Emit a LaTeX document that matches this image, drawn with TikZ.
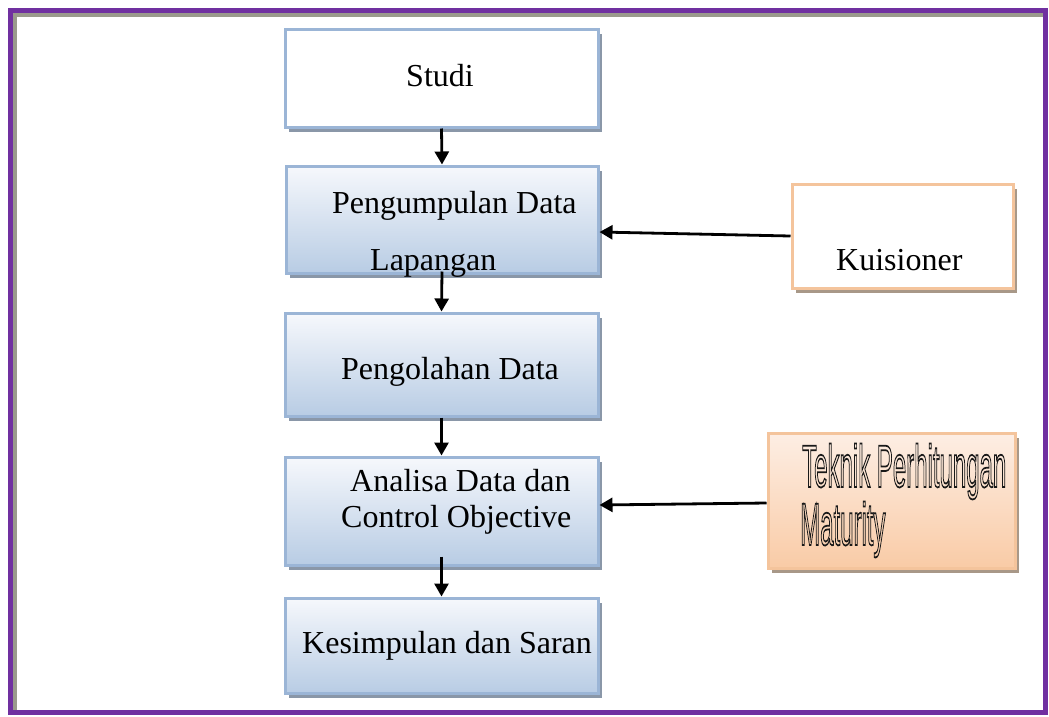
\documentclass[tikz,border=0pt]{standalone}
\usepackage{fontspec}
\setmainfont{Liberation Serif}
\newfontfamily\condfont{Liberation Sans}
\usetikzlibrary{arrows.meta,shadows}
\definecolor{frameP}{HTML}{7030A0}
\definecolor{frameG}{HTML}{9A9A8C}
\definecolor{blueLine}{HTML}{9BB5D6}
\definecolor{blueTop}{HTML}{F6F8FC}
\definecolor{blueBot}{HTML}{B8CCE4}
\definecolor{orLine}{HTML}{F4C49C}
\definecolor{orTop}{HTML}{FDEEE4}
\definecolor{orBot}{HTML}{F9CBA6}
\definecolor{shBlue}{HTML}{8A97A8}
\definecolor{shOr}{HTML}{A89888}
\tikzset{
  basebox/.style={rectangle, line width=3pt, inner sep=0pt},
  bluebox/.style={basebox, draw=blueLine, top color=blueTop, bottom color=blueBot,
    drop shadow={shadow xshift=3.5pt, shadow yshift=-5pt, fill=shBlue, opacity=1}},
  whitebox/.style={basebox, draw=blueLine, fill=white,
    drop shadow={shadow xshift=3.5pt, shadow yshift=-5pt, fill=shBlue, opacity=1}},
  orwhite/.style={basebox, draw=orLine, fill=white,
    drop shadow={shadow xshift=3.5pt, shadow yshift=-5pt, fill=shOr, opacity=1}},
  orbox/.style={basebox, draw=orLine, top color=orTop, bottom color=orBot,
    drop shadow={shadow xshift=3.5pt, shadow yshift=-5pt, fill=shOr, opacity=1}},
  txt/.style={anchor=base west, inner sep=0pt, font=\fontsize{32}{38}\selectfont},
  arr/.style={line width=2.8pt, -{Triangle[length=13pt,width=14pt]}}
}
\begin{document}
\begin{tikzpicture}[x=1pt,y=-1pt]
\useasboundingbox (0,0) rectangle (1049,716);
\fill[white] (0,0) rectangle (1049,716);
% frame
\draw[frameG, line width=3.5pt] (15,712) -- (15,15) -- (1044,15);
\draw[frameP, line width=5.5pt] (10.5,10.5) rectangle (1045.5,712.5);

% boxes
\node[whitebox, minimum width=313pt, minimum height=98pt] (s1) at (441.5,78) {};
\node[bluebox, minimum width=312pt, minimum height=107pt] (s2) at (442,219.5) {};
\node[bluebox, minimum width=313pt, minimum height=103pt] (s3) at (441.5,364.5) {};
\node[bluebox, minimum width=313pt, minimum height=108pt] (s4) at (441.5,511) {};
\node[bluebox, minimum width=313pt, minimum height=95pt] (s5) at (441.5,645.5) {};
\node[orwhite, minimum width=221pt, minimum height=104pt] (kuis) at (902.5,236) {};
\node[orbox, minimum width=247pt, minimum height=135pt] (tek) at (891.5,500.5) {};

% texts
\node[txt, anchor=base] (t1) at (440,86) {Studi};
\node[txt] (t2a) at (332,213) {Pengumpulan Data};
\node[txt] (t2b) at (370,270) {Lapangan};
\node[txt] (t3) at (341,379) {Pengolahan Data};
\node[txt] (t4a) at (350,491) {Analisa Data dan};
\node[txt] (t4b) at (341,527) {Control Objective};
\node[txt] (t5) at (302,653) {Kesimpulan dan Saran};
\node[txt] (tk) at (836,270) {Kuisioner};
\node[anchor=base west, inner sep=0pt, font=\condfont\fontsize{60}{60}\selectfont] (te1) at (802,487)
  {\special{pdf:literal direct q 1 Tr 1.8 w 0.1 G}\scalebox{0.40}[1]{Teknik Perhitungan}\special{pdf:literal direct Q}};
\node[anchor=base west, inner sep=0pt, font=\condfont\fontsize{60}{60}\selectfont] (te2) at (800,545)
  {\special{pdf:literal direct q 1 Tr 1.8 w 0.1 G}\scalebox{0.40}[1]{Maturity}\special{pdf:literal direct Q}};

% connectors
\draw[arr] (s1.south) -- (s2.north);
\draw[arr] ([yshift=3pt]s2.south) -- (s3.north);
\draw[arr] (s3.south) -- (s4.north);
\draw[arr] ([yshift=10pt]s4.south) -- (s5.north);
\draw[arr] (kuis.west) -- ([yshift=-12.5pt]s2.east);
\draw[arr] ([yshift=-2.5pt]tek.west) -- ([yshift=6pt]s4.east);
\end{tikzpicture}
\end{document}
